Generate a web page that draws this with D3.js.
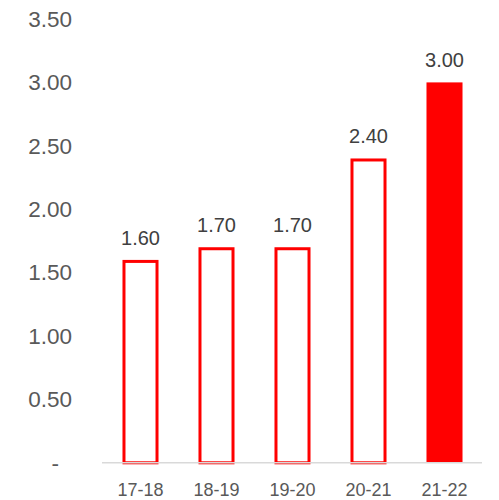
<!DOCTYPE html>
<html>
<head>
<meta charset="utf-8">
<script src="https://cdn.jsdelivr.net/npm/d3@7"></script>
<style>
  html, body { margin: 0; padding: 0; background: #fff; }
  svg { display: block; font-family: "Liberation Sans", Arial, sans-serif; }
</style>
</head>
<body>
<svg id="chart" width="499" height="500"></svg>
<script>
// Fiscal years and their values
const categories = ["17-18", "18-19", "19-20", "20-21", "21-22"];
const values = [1.60, 1.70, 1.70, 2.40, 3.00];
const filled = [false, false, false, false, true];
const yTicks = [0, 0.5, 1.0, 1.5, 2.0, 2.5, 3.0, 3.5];

const svg = d3.select("#chart");
const red = "#ff0000";

const x = d3.scaleBand()
  .domain(categories)
  .range([102.5, 482.5])
  .paddingInner(0.526)
  .paddingOuter(0.263);

const y = d3.scaleLinear()
  .domain([0, 3.5])
  .range([462.8, 19]);

// Y-axis labels (no tick marks, no line)
svg.append("g")
  .selectAll("text")
  .data(yTicks)
  .join("text")
  .attr("x", d => d === 0 ? 59 : 72)
  .attr("y", d => y(d))
  .attr("dy", "0.35em")
  .attr("text-anchor", "end")
  .attr("fill", "#595959")
  .style("font-size", "22.5px")
  .text(d => d === 0 ? "-" : d3.format(".2f")(d));

// Bars
const data = categories.map((c, i) => ({ c, v: values[i], f: filled[i] }));
svg.append("g")
  .selectAll("rect")
  .data(data)
  .join("rect")
  .attr("x", d => d.f ? x(d.c) : x(d.c) + 1.5)
  .attr("y", d => d.f ? y(d.v) : y(d.v) + 1.5)
  .attr("width", d => d.f ? x.bandwidth() : x.bandwidth() - 3)
  .attr("height", d => d.f ? y(0) - y(d.v) : y(0) - y(d.v) - 1.5)
  .attr("fill", d => d.f ? red : "#fff")
  .attr("stroke", d => d.f ? "none" : red)
  .attr("stroke-width", 3);

// Value labels above bars
svg.append("g")
  .selectAll("text")
  .data(data)
  .join("text")
  .attr("x", d => x(d.c) + x.bandwidth() / 2)
  .attr("y", d => y(d.v) - 15)
  .attr("text-anchor", "middle")
  .attr("fill", "#404040")
  .style("font-size", "20px")
  .text(d => d3.format(".2f")(d.v));

// Baseline
svg.append("line")
  .attr("x1", 102).attr("x2", 482)
  .attr("y1", y(0)).attr("y2", y(0))
  .attr("stroke", "#d9d9d9")
  .attr("stroke-width", 1.5);

// Category labels
svg.append("g")
  .selectAll("text")
  .data(categories)
  .join("text")
  .attr("x", d => x(d) + x.bandwidth() / 2)
  .attr("y", 490)
  .attr("dy", "0.35em")
  .attr("text-anchor", "middle")
  .attr("fill", "#595959")
  .style("font-size", "18px")
  .text(d => d);
</script>
</body>
</html>
